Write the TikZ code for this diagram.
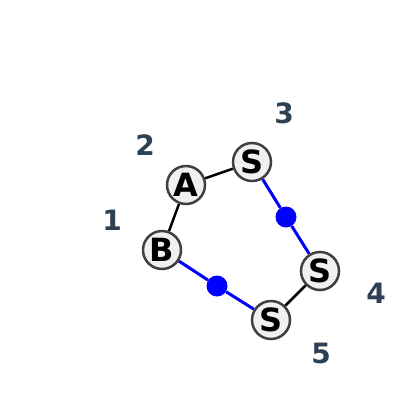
\documentclass[tikz,border=0pt]{standalone}
\usepackage{fontspec}
\setmainfont{DejaVu Sans}
\usetikzlibrary{backgrounds}
\begin{document}
\begin{tikzpicture}[x=1pt,y=-1pt,
  atom/.style={circle,draw=black!75,fill=black!6,line width=2.5pt,minimum size=38pt,inner sep=0pt,font=\fontsize{32}{32}\selectfont\bfseries},
  lbl/.style={text=lblcol,font=\fontsize{28}{28}\selectfont\bfseries},
  bond/.style={line width=2.5pt,black},
  bbond/.style={line width=3pt,blue},
  dot/.style={circle,fill=blue,minimum size=21pt,inner sep=0pt}]
\definecolor{lblcol}{HTML}{2E4053}
\useasboundingbox (0,0) rectangle (400,400);
\node[dot] (d1) at (286,217) {};
\node[dot] (d2) at (217,286) {};
\node[atom] (A) at (186,185) {A};
\node[atom] (S3) at (252,162) {S};
\node[atom] (S4) at (320,271) {S};
\node[atom] (S5) at (271,320) {S};
\node[atom] (B) at (162,250) {B};
\begin{scope}[on background layer]
\draw[bond] (A) -- (S3);
\draw[bond] (A) -- (B);
\draw[bond] (S4) -- (S5);
\draw[bbond] (S3) -- (d1) -- (S4);
\draw[bbond] (B) -- (d2) -- (S5);
\end{scope}
\node[lbl] (l1) at (112,220) {1};
\node[lbl] (l2) at (145,145) {2};
\node[lbl] (l3) at (284,113) {3};
\node[lbl] (l4) at (376,293) {4};
\node[lbl] (l5) at (321,353) {5};
\end{tikzpicture}
\end{document}
